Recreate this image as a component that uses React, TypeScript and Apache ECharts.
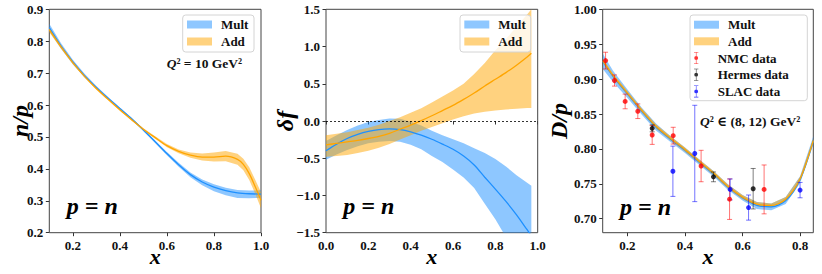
import React, { useEffect, useRef } from 'react';
import * as echarts from 'echarts';

// ---------- Panel 1 : n/p ----------
const npX1Ticks = [0.2, 0.4, 0.6, 0.8, 1.0];
const npYTicks = [0.2, 0.3, 0.4, 0.5, 0.6, 0.7, 0.8, 0.9];
const npMultX = [0.1, 0.15, 0.2, 0.25, 0.3, 0.35, 0.4, 0.45, 0.5, 0.55, 0.6, 0.65, 0.7, 0.75, 0.8, 0.85, 0.9, 0.95, 1.0];
const npMult = [0.843, 0.785, 0.735, 0.692, 0.655, 0.621, 0.589, 0.557, 0.522, 0.485, 0.448, 0.413, 0.382, 0.359, 0.343, 0.332, 0.325, 0.322, 0.321];
const npMultHi = [0.855, 0.794, 0.742, 0.698, 0.66, 0.625, 0.592, 0.56, 0.525, 0.489, 0.453, 0.419, 0.389, 0.367, 0.352, 0.341, 0.334, 0.332, 0.333];
const npMultLo = [0.831, 0.776, 0.728, 0.686, 0.65, 0.617, 0.586, 0.554, 0.519, 0.481, 0.443, 0.407, 0.374, 0.349, 0.33, 0.317, 0.309, 0.308, 0.309];
const npAddX = [0.1, 0.15, 0.2, 0.25, 0.3, 0.35, 0.4, 0.45, 0.5, 0.55, 0.6, 0.65, 0.7, 0.75, 0.8, 0.85, 0.9, 0.925, 0.95, 0.975, 1.0];
const npAdd = [0.836, 0.782, 0.733, 0.69, 0.652, 0.618, 0.585, 0.554, 0.524, 0.498, 0.473, 0.455, 0.443, 0.437, 0.437, 0.44, 0.43, 0.414, 0.385, 0.345, 0.302];
const npAddHi = [0.844, 0.788, 0.738, 0.694, 0.656, 0.621, 0.588, 0.557, 0.527, 0.502, 0.478, 0.461, 0.451, 0.448, 0.451, 0.456, 0.447, 0.432, 0.405, 0.367, 0.327];
const npAddLo = [0.828, 0.776, 0.728, 0.686, 0.648, 0.615, 0.582, 0.551, 0.521, 0.494, 0.468, 0.449, 0.435, 0.426, 0.423, 0.424, 0.413, 0.396, 0.365, 0.323, 0.277];

// ---------- Panel 2 : delta f ----------
const dfXTicks = [0.0, 0.2, 0.4, 0.6, 0.8, 1.0];
const dfYTicks = [-1.5, -1.0, -0.5, 0.0, 0.5, 1.0, 1.5];
const dfX = [0, 0.05, 0.1, 0.15, 0.2, 0.25, 0.3, 0.35, 0.4, 0.45, 0.5, 0.55, 0.6, 0.65, 0.7, 0.75, 0.8, 0.85, 0.9, 0.95, 0.97];
const dfMult = [-0.4, -0.31, -0.235, -0.18, -0.14, -0.115, -0.107, -0.115, -0.145, -0.19, -0.245, -0.31, -0.38, -0.47, -0.59, -0.755, -0.915, -1.08, -1.26, -1.46, -1.54];
const dfMultHi = [-0.27, -0.19, -0.12, -0.06, -0.015, 0.015, 0.035, 0.03, -0.01, -0.06, -0.13, -0.19, -0.245, -0.3, -0.365, -0.43, -0.51, -0.61, -0.73, -0.83, -0.87];
const dfMultLo = [-0.52, -0.45, -0.39, -0.34, -0.3, -0.28, -0.27, -0.28, -0.32, -0.38, -0.47, -0.55, -0.65, -0.76, -0.9, -1.11, -1.32, -1.56, -1.82, -2.1, -2.22];
const dfAdd = [-0.32, -0.3, -0.28, -0.26, -0.235, -0.205, -0.165, -0.11, -0.055, 0.005, 0.07, 0.14, 0.21, 0.29, 0.375, 0.47, 0.56, 0.65, 0.75, 0.86, 0.91];
const dfAddHi = [-0.19, -0.17, -0.15, -0.12, -0.09, -0.05, 0.0, 0.05, 0.11, 0.17, 0.25, 0.33, 0.41, 0.5, 0.63, 0.78, 0.95, 1.1, 1.27, 1.43, 1.5];
const dfAddLo = [-0.48, -0.47, -0.455, -0.43, -0.4, -0.36, -0.31, -0.25, -0.19, -0.13, -0.08, -0.03, 0.02, 0.065, 0.1, 0.125, 0.14, 0.155, 0.165, 0.175, 0.175];

// ---------- Panel 3 : D/p ----------
const dpXTicks = [0.2, 0.4, 0.6, 0.8];
const dpYTicks = [0.7, 0.75, 0.8, 0.85, 0.9, 0.95, 1.0];
const dpX = [0.115, 0.15, 0.2, 0.25, 0.3, 0.35, 0.4, 0.45, 0.5, 0.55, 0.6, 0.65, 0.7, 0.75, 0.8, 0.846];
const dpAdd = [0.926, 0.905, 0.88, 0.855, 0.832, 0.815, 0.799, 0.782, 0.765, 0.746, 0.731, 0.721, 0.719, 0.728, 0.757, 0.812];
const dpAddHi = [0.929, 0.908, 0.883, 0.858, 0.835, 0.818, 0.802, 0.785, 0.768, 0.749, 0.734, 0.724, 0.722, 0.731, 0.76, 0.815];
const dpAddLo = [0.923, 0.902, 0.877, 0.852, 0.829, 0.812, 0.796, 0.779, 0.762, 0.743, 0.728, 0.718, 0.716, 0.725, 0.754, 0.809];
const dpMult = [0.925, 0.904, 0.879, 0.854, 0.831, 0.814, 0.798, 0.781, 0.764, 0.745, 0.73, 0.719, 0.717, 0.726, 0.756, 0.812];
const dpMultHi = [0.936, 0.912, 0.885, 0.859, 0.836, 0.818, 0.802, 0.785, 0.768, 0.749, 0.734, 0.724, 0.722, 0.731, 0.761, 0.818];
const dpMultLo = [0.914, 0.896, 0.873, 0.849, 0.826, 0.81, 0.794, 0.777, 0.76, 0.741, 0.726, 0.714, 0.712, 0.721, 0.751, 0.806];

const nmcX = [0.124, 0.155, 0.192, 0.236, 0.286, 0.359, 0.456, 0.555, 0.675];
const nmcY = [0.9265, 0.898, 0.868, 0.854, 0.82, 0.819, 0.7755, 0.728, 0.742];
const nmcErr = [0.012, 0.008, 0.0105, 0.0105, 0.0135, 0.012, 0.0225, 0.029, 0.035];
const hermesX = [0.286, 0.499, 0.637];
const hermesY = [0.8295, 0.76, 0.743];
const hermesErr = [0.005, 0.007, 0.029];
const slacX = [0.358, 0.434, 0.557, 0.621, 0.8];
const slacY = [0.768, 0.7935, 0.742, 0.716, 0.741];
const slacErr = [0.036, 0.069, 0.015, 0.018, 0.011];

const FONT = 'Liberation Serif, DejaVu Serif, serif';
const BLUE = '#1e90ff';
const BLUE_BAND = 'rgba(30,144,255,0.5)';
const ORANGE = '#ffa500';
const ORANGE_BAND = 'rgba(255,165,0,0.5)';
const EB_ICON = 'path://M2 0h8v1h-8z M2 21h8v1h-8z M5.5 0h1v22h-1z M2.5 11a3.5 3.5 0 1 1 7 0a3.5 3.5 0 1 1 -7 0z';

const GRIDS = [
  { left: 49.3, top: 9.3, width: 211.7, height: 223.4 },
  { left: 326, top: 9.3, width: 211.7, height: 223.4 },
  { left: 602.7, top: 9.3, width: 210.6, height: 223.4 },
];

function band(name: string, gi: number, xs: number[], lo: number[], hi: number[], color: string) {
  return {
    type: 'custom',
    name,
    xAxisIndex: gi,
    yAxisIndex: gi,
    clip: true,
    silent: true,
    z: 2,
    itemStyle: { color },
    data: xs.map((x, i) => [x, lo[i], hi[i]]),
    encode: { x: 0, y: [1, 2] },
    renderItem: (params: any, api: any) => {
      if (params.dataIndex !== 0) return null;
      const pts: number[][] = [];
      for (let i = 0; i < xs.length; i++) pts.push(api.coord([xs[i], hi[i]]));
      for (let i = xs.length - 1; i >= 0; i--) pts.push(api.coord([xs[i], lo[i]]));
      return { type: 'polygon', shape: { points: pts }, style: { fill: color } };
    },
  };
}

function line(name: string, gi: number, xs: number[], ys: number[], color: string) {
  return {
    type: 'line',
    name,
    xAxisIndex: gi,
    yAxisIndex: gi,
    data: xs.map((x, i) => [x, ys[i]]),
    smooth: 0.3,
    symbol: 'none',
    showSymbol: false,
    clip: true,
    silent: true,
    z: 3,
    lineStyle: { color, width: 1.3 },
    itemStyle: { color },
  };
}

function errBars(name: string, xs: number[], ys: number[], es: number[], color: string) {
  return {
    type: 'custom',
    name,
    xAxisIndex: 2,
    yAxisIndex: 2,
    silent: true,
    z: 4,
    data: xs.map((x, i) => [x, ys[i], es[i]]),
    encode: { x: 0, y: 1 },
    renderItem: (params: any, api: any) => {
      const x = api.value(0);
      const y = api.value(1);
      const e = api.value(2);
      const a = api.coord([x, y + e]);
      const b = api.coord([x, y - e]);
      const st = { stroke: color, lineWidth: 1 };
      return {
        type: 'group',
        children: [
          { type: 'line', shape: { x1: a[0], y1: a[1], x2: b[0], y2: b[1] }, style: st },
          { type: 'line', shape: { x1: a[0] - 2.5, y1: a[1], x2: a[0] + 2.5, y2: a[1] }, style: st },
          { type: 'line', shape: { x1: b[0] - 2.5, y1: b[1], x2: b[0] + 2.5, y2: b[1] }, style: st },
        ],
      };
    },
  };
}

function points(name: string, xs: number[], ys: number[], color: string) {
  return {
    type: 'scatter',
    name,
    xAxisIndex: 2,
    yAxisIndex: 2,
    silent: true,
    z: 5,
    symbolSize: 5,
    itemStyle: { color },
    data: xs.map((x, i) => [x, ys[i]]),
  };
}

const fmt = (d: number) => (v: number) => v.toFixed(d).replace('-', '\u2212');

function xAxis(gi: number, min: number, max: number, ticks: number[], digits: number) {
  return {
    type: 'value',
    gridIndex: gi,
    min,
    max,
    name: 'x',
    nameLocation: 'middle',
    nameGap: 18,
    nameMoveOverlap: false,
    nameTextStyle: { fontFamily: FONT, fontStyle: 'italic', fontWeight: 'bold', fontSize: 22, lineHeight: 11, color: '#000' },
    axisLine: { show: false },
    axisTick: { show: true, length: 3.5, lineStyle: { color: '#333' }, customValues: ticks },
    axisLabel: { margin: 7, lineHeight: 11, customValues: ticks, formatter: fmt(digits), fontFamily: FONT, fontWeight: 'bold', fontSize: 13, color: '#111' },
    splitLine: { show: false },
  };
}

function yAxis(gi: number, min: number, max: number, ticks: number[], digits: number, name: string, gap: number) {
  return {
    type: 'value',
    gridIndex: gi,
    min,
    max,
    name,
    nameLocation: 'middle',
    nameGap: gap,
    nameRotate: 90,
    nameMoveOverlap: false,
    nameTextStyle: { fontFamily: FONT, fontStyle: 'italic', fontWeight: 'bold', fontSize: 24, color: '#000' },
    axisLine: { show: false },
    axisTick: { show: true, length: 3.5, lineStyle: { color: '#333' }, customValues: ticks },
    axisLabel: { margin: 6, customValues: ticks, formatter: fmt(digits), fontFamily: FONT, fontWeight: 'bold', fontSize: 13, color: '#111' },
    splitLine: { show: false },
  };
}

const legendText = { fontFamily: FONT, fontWeight: 'bold', fontSize: 13, color: '#111', lineHeight: 14, padding: [0, 0, 0, 4] };
const patchItems = [
  { name: 'Mult', icon: 'rect', itemStyle: { color: BLUE_BAND, borderWidth: 0 } },
  { name: 'Add', icon: 'rect', itemStyle: { color: ORANGE_BAND, borderWidth: 0 } },
];
function patchLegend(left: number, top: number, gap: number) {
  return {
    data: patchItems,
    orient: 'vertical',
    left,
    top,
    itemWidth: 25,
    itemHeight: 8,
    itemGap: gap,
    padding: 0,
    selectedMode: false,
    textStyle: legendText,
    z: 10,
  };
}

const boxStyle = { fill: 'rgba(255,255,255,0.8)', stroke: '#d4d4d4', lineWidth: 1 };
const richQ = {
  q: { fontFamily: FONT, fontStyle: 'italic', fontWeight: 'bold', fontSize: 13.5, fill: '#111' },
  b: { fontFamily: FONT, fontWeight: 'bold', fontSize: 13.5, fill: '#111' },
};
const pnStyle = { fontFamily: FONT, fontStyle: 'italic', fontWeight: 'bold', fontSize: 24, fill: '#000' };

export default function App() {
  const ref = useRef<HTMLDivElement>(null);
  useEffect(() => {
    if (!ref.current) return;
    const chart = echarts.init(ref.current, null, { renderer: 'svg' });
    chart.setOption({
      animation: false,
      backgroundColor: '#fff',
      textStyle: { fontFamily: FONT },
      grid: GRIDS.map((g) => ({ ...g, show: true, borderColor: '#444', borderWidth: 1, backgroundColor: 'transparent', z: 1 })),
      xAxis: [
        xAxis(0, 0.1, 1.0, npX1Ticks, 1),
        xAxis(1, 0, 1.0, dfXTicks, 1),
        xAxis(2, 0.114, 0.846, dpXTicks, 1),
      ],
      yAxis: [
        yAxis(0, 0.2, 0.9, npYTicks, 1, 'n/p', 17),
        yAxis(1, -1.5, 1.5, dfYTicks, 1, 'δf', 29),
        yAxis(2, 0.68, 1.0, dpYTicks, 2, 'D/p', 32),
      ],
      legend: [
        patchLegend(187, 17.5, 3),
        patchLegend(464.3, 17.5, 3),
        patchLegend(694, 17.7, 2.6),
        {
          data: [
            { name: 'NMC data', icon: EB_ICON, itemStyle: { color: '#ff0000', borderWidth: 0 } },
            { name: 'Hermes data', icon: EB_ICON, itemStyle: { color: '#000000', borderWidth: 0 } },
            { name: 'SLAC data', icon: EB_ICON, itemStyle: { color: '#0000ff', borderWidth: 0 } },
          ],
          orient: 'vertical',
          left: 694,
          top: 51,
          itemWidth: 25,
          itemHeight: 12,
          itemGap: 2.7,
          padding: 0,
          selectedMode: false,
          textStyle: legendText,
          z: 10,
        },
      ],
      graphic: [
        { type: 'rect', z: 8, shape: { x: 182.7, y: 15, width: 71.3, height: 37, r: 3 }, style: boxStyle },
        { type: 'rect', z: 8, shape: { x: 460, y: 15, width: 70.7, height: 37, r: 3 }, style: boxStyle },
        { type: 'rect', z: 8, shape: { x: 690, y: 15, width: 117.3, height: 85.7, r: 3 }, style: boxStyle },
        { type: 'text', z: 9, x: 166.7, y: 63, style: { text: '{q|Q}{b|² = 10 GeV²}', rich: richQ, textVerticalAlign: 'middle' } },
        { type: 'text', z: 9, x: 700, y: 121, style: { text: '{q|Q}{b|² ∈ (8, 12) GeV²}', rich: richQ, textVerticalAlign: 'middle' } },
        { type: 'text', z: 9, x: 66.7, y: 206, style: { text: 'p = n', ...pnStyle, textVerticalAlign: 'middle' } },
        { type: 'text', z: 9, x: 343.3, y: 206, style: { text: 'p = n', ...pnStyle, textVerticalAlign: 'middle' } },
        { type: 'text', z: 9, x: 620, y: 207, style: { text: 'p = n', ...pnStyle, textVerticalAlign: 'middle' } },
      ],
      series: [
        band('Mult', 0, npMultX, npMultLo, npMultHi, BLUE_BAND),
        line('Mult central', 0, npMultX, npMult, BLUE),
        band('Add', 0, npAddX, npAddLo, npAddHi, ORANGE_BAND),
        line('Add central', 0, npAddX, npAdd, ORANGE),

        band('Mult', 1, dfX, dfMultLo, dfMultHi, BLUE_BAND),
        line('Mult central', 1, dfX, dfMult, BLUE),
        band('Add', 1, dfX, dfAddLo, dfAddHi, ORANGE_BAND),
        {
          ...line('Add central', 1, dfX, dfAdd, ORANGE),
          markLine: {
            silent: true,
            symbol: 'none',
            label: { show: false },
            lineStyle: { color: '#000', type: [2, 2], width: 0.8 },
            data: [{ yAxis: 0 }],
          },
        },

        band('Mult', 2, dpX, dpMultLo, dpMultHi, BLUE_BAND),
        line('Mult central', 2, dpX, dpMult, BLUE),
        band('Add', 2, dpX, dpAddLo, dpAddHi, ORANGE_BAND),
        line('Add central', 2, dpX, dpAdd, ORANGE),

        errBars('NMC err', nmcX, nmcY, nmcErr, 'rgba(255,0,0,0.55)'),
        errBars('Hermes err', hermesX, hermesY, hermesErr, 'rgba(0,0,0,0.5)'),
        errBars('SLAC err', slacX, slacY, slacErr, 'rgba(0,0,255,0.55)'),
        points('NMC data', nmcX, nmcY, '#ff0000'),
        points('Hermes data', hermesX, hermesY, '#000000'),
        points('SLAC data', slacX, slacY, '#0000ff'),
      ],
    });
    return () => chart.dispose();
  }, []);
  return <div ref={ref} style={{ position: 'absolute', left: 0, top: 0, width: 822, height: 274, background: '#fff' }} />;
}
